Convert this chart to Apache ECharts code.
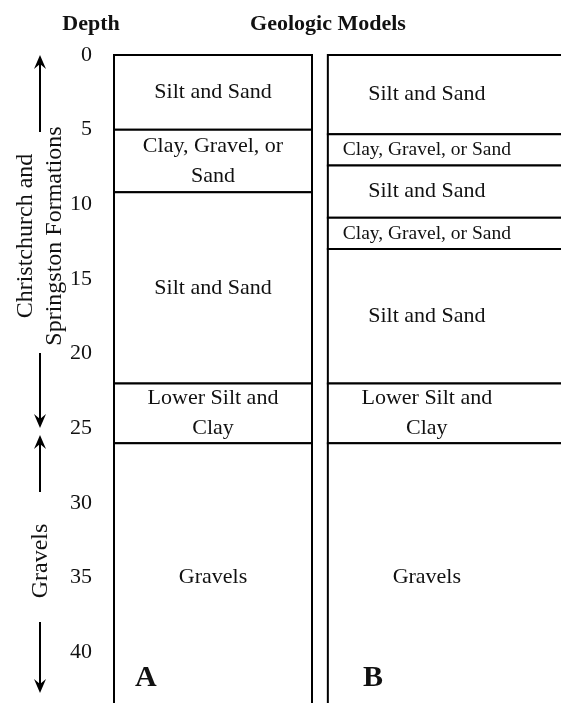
<!DOCTYPE html>
<html>
<head>
<meta charset="utf-8">
<script src="https://cdn.jsdelivr.net/npm/echarts@6/dist/echarts.min.js"></script>
<style>
  html, body { margin: 0; padding: 0; background: #fff; }
  #chart { width: 561px; height: 703px; }
</style>
</head>
<body>
<div id="chart"></div>
<script>
// depth (m) of each layer boundary
const depthTicks = [0, 5, 10, 15, 20, 25, 30, 35, 40]

const modelATops = [0, 5, 9.2, 22, 26]
const modelABottoms = [5, 9.2, 22, 26, 44]
const modelAUnits = ['Silt and Sand', 'Clay, Gravel, or\nSand', 'Silt and Sand', 'Lower Silt and\nClay', 'Gravels']

const modelBTops = [0, 5.3, 7.4, 10.9, 13, 22, 26]
const modelBBottoms = [5.3, 7.4, 10.9, 13, 22, 26, 44]
const modelBUnits = ['Silt and Sand', 'Clay, Gravel, or Sand', 'Silt and Sand', 'Clay, Gravel, or Sand', 'Silt and Sand', 'Lower Silt and\nClay', 'Gravels']

const serif = "'Liberation Serif', 'Times New Roman', serif"

// column x-extents in axis units (A: 0-10, B starts at 10.8 and runs off the page)
function layerRenderer(x0, x1, xText, units) {
  return function (params, api) {
    const i = params.dataIndex
    const p0 = api.coord([x0, api.value(0)])
    const p1 = api.coord([x1, api.value(1)])
    const name = units[i]
    const small = name.indexOf('or Sand') >= 0 && name.indexOf('\n') < 0
    return {
      type: 'group',
      children: [{
        type: 'rect',
        shape: { x: p0[0], y: p0[1], width: p1[0] - p0[0], height: p1[1] - p0[1] },
        style: { fill: '#fff', stroke: '#000', lineWidth: 2 }
      }, {
        type: 'text',
        x: api.coord([xText, 0])[0],
        y: (p0[1] + p1[1]) / 2,
        style: {
          text: name,
          fill: '#111',
          font: (small ? '19.5px ' : '22px ') + serif,
          lineHeight: 30,
          align: 'center',
          verticalAlign: 'middle'
        }
      }]
    }
  }
}

function arrow(x, yFrom, yTip) {
  const dir = yTip < yFrom ? -1 : 1
  return [{
    type: 'line',
    shape: { x1: x, y1: yFrom, x2: x, y2: yTip - dir * 8 },
    style: { stroke: '#000', lineWidth: 2 }
  }, {
    type: 'polygon',
    shape: { points: [[x, yTip], [x - 6, yTip - dir * 14], [x, yTip - dir * 9], [x + 6, yTip - dir * 14]] },
    style: { fill: '#000' }
  }]
}

const chart = echarts.init(document.getElementById('chart'))

chart.setOption({
  animation: false,
  backgroundColor: '#fff',
  grid: { left: 114, top: 55, width: 455.4, height: 657, outerBoundsMode: 'none' },
  xAxis: { type: 'value', min: 0, max: 23, show: false },
  yAxis: {
    type: 'value',
    inverse: true,
    min: 0,
    max: 44,
    interval: 5,
    axisLine: { show: false },
    axisTick: { show: false },
    splitLine: { show: false },
    axisLabel: {
      margin: 22,
      color: '#111',
      fontSize: 22,
      fontFamily: serif,
      formatter: v => depthTicks.includes(v) ? String(v) : ''
    }
  },
  graphic: [
    { type: 'text', x: 91, y: 24, style: { text: 'Depth', font: 'bold 22px ' + serif, fill: '#111', align: 'center', verticalAlign: 'middle' } },
    { type: 'text', x: 328, y: 24, style: { text: 'Geologic Models', font: 'bold 22px ' + serif, fill: '#111', align: 'center', verticalAlign: 'middle' } },
    { type: 'text', x: 135, y: 678, z: 10, style: { text: 'A', font: 'bold 30px ' + serif, fill: '#111', align: 'left', verticalAlign: 'middle' } },
    { type: 'text', x: 363, y: 678, z: 10, style: { text: 'B', font: 'bold 30px ' + serif, fill: '#111', align: 'left', verticalAlign: 'middle' } },
    {
      type: 'text', x: 40, y: 236, rotation: Math.PI / 2,
      style: { text: 'Christchurch and\nSpringston Formations', font: '24px ' + serif, lineHeight: 29, fill: '#111', align: 'center', verticalAlign: 'middle' }
    },
    {
      type: 'text', x: 41, y: 561, rotation: Math.PI / 2,
      style: { text: 'Gravels', font: '24px ' + serif, fill: '#111', align: 'center', verticalAlign: 'middle' }
    },
    ...arrow(40, 132, 55),
    ...arrow(40, 353, 428),
    ...arrow(40, 492, 435),
    ...arrow(40, 622, 693)
  ],
  series: [{
    type: 'custom',
    name: 'A',
    renderItem: layerRenderer(0, 10, 5, modelAUnits),
    data: modelATops.map((t, i) => [t, modelABottoms[i]])
  }, {
    type: 'custom',
    name: 'B',
    renderItem: layerRenderer(10.8, 24, 15.8, modelBUnits),
    data: modelBTops.map((t, i) => [t, modelBBottoms[i]])
  }]
})
</script>
</body>
</html>
